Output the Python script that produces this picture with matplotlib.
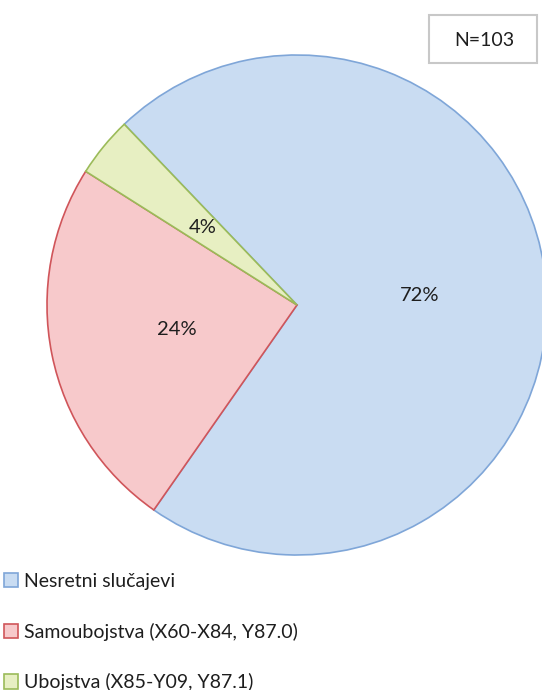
import matplotlib
matplotlib.use("Agg")
import matplotlib.pyplot as plt
from matplotlib.patches import Rectangle
import numpy as np

categories = ["Nesretni slučajevi", "Samoubojstva (X60-X84, Y87.0)", "Ubojstva (X85-Y09, Y87.1)"]
counts = [74, 25, 4]
pct_labels = ["72%", "24%", "4%"]
n_label = "N=103"

fills = ["#c9dcf2", "#f7c9cb", "#e7efc2"]
edges = ["#7fa6d8", "#d0555a", "#9bbb59"]

plt.rcParams['font.family'] = ['Lato', 'DejaVu Sans']

W, H = 542, 690
fig = plt.figure(figsize=(W / 100, H / 100), dpi=100)
ax = fig.add_axes([0, 0, 1, 1])

cx, cy, R = 297, H - 305, 250
wedges, texts = ax.pie(counts, colors=fills, startangle=133.7, counterclock=False,
                       center=(cx, cy), radius=R,
                       wedgeprops=dict(linewidth=1.2))
for w, e in zip(wedges, edges):
    w.set_edgecolor(e)
for w, lab in zip(wedges, pct_labels):
    ang = np.deg2rad((w.theta1 + w.theta2) / 2)
    ax.text(cx + R * 0.49 * np.cos(ang), cy + R * 0.49 * np.sin(ang), lab,
            ha="center", va="center", fontsize=14.5, color="#1e1e1e")

ax.set_xlim(0, W)
ax.set_ylim(0, H)
ax.set_aspect("equal")
ax.axis("off")

# N box
ax.add_patch(Rectangle((429, H - 63), 108, 48, facecolor="white", edgecolor="#c8c8c8", linewidth=1.5))
ax.text(484, H - 40, n_label, ha="center", va="center", fontsize=14, color="#1e1e1e")

leg = fig.legend(wedges, categories, loc="upper left", bbox_to_anchor=(0.0, 1 - 569 / H),
                 frameon=False, fontsize=14, handlelength=0.75, handleheight=0.75,
                 handletextpad=0.3, labelspacing=1.68, borderaxespad=0, borderpad=0.2)
for h, e in zip(leg.legend_handles, edges):
    h.set_edgecolor(e)
    h.set_linewidth(1.2)
for t in leg.get_texts():
    t.set_color("#1e1e1e")

fig.savefig("out.png", dpi=100)
